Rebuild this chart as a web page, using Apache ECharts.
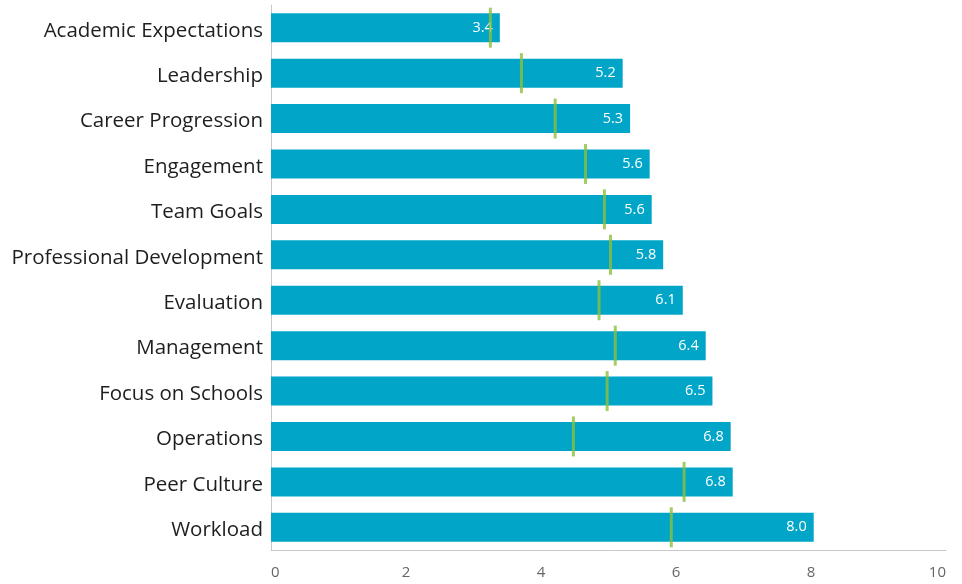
<!DOCTYPE html>
<html><head><meta charset="utf-8">
<script src="https://cdn.jsdelivr.net/npm/echarts@6/dist/echarts.min.js"></script>
<style>html,body{margin:0;padding:0;background:#fff}#c{width:962px;height:584px}</style>
</head><body><div id="c"></div>
<script>
const categories = ["Academic Expectations","Leadership","Career Progression","Engagement","Team Goals","Professional Development","Evaluation","Management","Focus on Schools","Operations","Peer Culture","Workload"];
const scores = [3.39, 5.21, 5.32, 5.61, 5.64, 5.81, 6.10, 6.44, 6.54, 6.81, 6.84, 8.04];
const benchmarks = [3.25, 3.71, 4.21, 4.66, 4.94, 5.03, 4.86, 5.10, 4.98, 4.48, 6.12, 5.93];
const xTicks = [0, 2, 4, 6, 8, 10];

const chart = echarts.init(document.getElementById('c'));
chart.setOption({
  animation: false,
  grid: {left: 271, right: 16, top: 5, bottom: 34, containLabel: false},
  xAxis: {
    type: 'value', min: xTicks[0], max: xTicks[xTicks.length-1], interval: xTicks[1]-xTicks[0],
    splitLine: {show: false},
    axisLine: {show: true, lineStyle: {color: '#c8c8c8'}},
    axisTick: {show: false},
    axisLabel: {color: '#666', fontSize: 15, fontFamily: 'Open Sans', margin: 15, alignMinLabel: 'left', alignMaxLabel: 'right'}
  },
  yAxis: {
    type: 'category', data: categories, inverse: true,
    axisLine: {show: true, lineStyle: {color: '#c8c8c8'}},
    axisTick: {show: false},
    axisLabel: {margin: 8, formatter: v => '{a|' + v + '}',
      rich: {a: {color: '#1e1e1e', fontSize: 20.5, fontFamily: 'Open Sans', padding: [6, 0, 0, 0]}}}
  },
  series: [
    {
      type: 'bar', data: scores, barWidth: 29,
      itemStyle: {color: '#00A5C8'},
      label: {show: true, position: 'insideRight', distance: 7, color: '#fff', fontSize: 14.5, fontFamily: 'Open Sans',
        formatter: p => p.value.toFixed(1)}
    },
    {
      type: 'scatter', data: benchmarks, symbol: 'rect', symbolSize: [3, 40], z: 5,
      itemStyle: {color: '#8CBF3C'}
    }
  ]
});
</script></body></html>
